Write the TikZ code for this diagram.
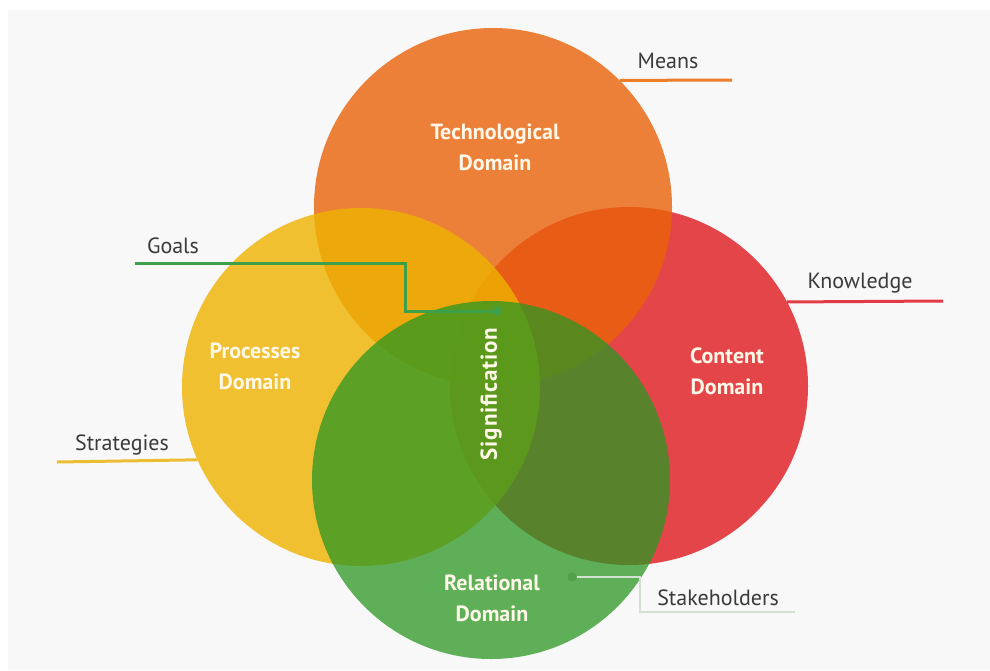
\documentclass[tikz,border=0pt]{standalone}
\usepackage{fontspec}
\setmainfont{PT Sans}
\newfontfamily\spacedsans[LetterSpace=4]{PT Sans}
\usepackage{tikz}

\definecolor{bgc}{RGB}{248,248,248}
\definecolor{techc}{RGB}{233,98,10}
\definecolor{procc}{RGB}{238,178,0}
\definecolor{contc}{RGB}{223,25,30}
\definecolor{relc}{RGB}{43,151,35}
\definecolor{cream}{RGB}{255,248,232}
\definecolor{tagc}{RGB}{58,58,60}
\definecolor{meansc}{RGB}{238,125,40}
\definecolor{knowc}{RGB}{225,60,70}
\definecolor{goalc}{RGB}{60,160,75}
\definecolor{stratc}{RGB}{235,190,50}
\definecolor{stakec}{RGB}{210,225,210}
\definecolor{staked}{RGB}{80,160,75}

\begin{document}
\begin{tikzpicture}[x=1pt, y=-1pt,
    sphere/.style={circle, minimum size=358pt, inner sep=0pt, outer sep=0pt, fill opacity=0.8},
    title/.style={text=cream, font=\bfseries\fontsize{22}{31}\selectfont, align=center},
    tag/.style={text=tagc, anchor=base, font=\fontsize{22}{26}\selectfont},
    lead/.style={line width=3pt},
    dot/.style={circle, minimum size=9pt, inner sep=0pt, outer sep=0pt}]
    \useasboundingbox (0,0) rectangle (990,670);
    \fill[white] (0,0) rectangle (990,670);
    \fill[bgc] (8,10) rectangle (990,670);

    \node[sphere, fill=contc]                    (cont) at (629,386) {};
    \node[sphere, fill=techc]                    (tech) at (493,207) {};
    \node[sphere, fill=procc]                    (proc) at (361,387) {};
    \node[sphere, fill=relc, fill opacity=0.75]  (rel)  at (491,480) {};

    \node[title] (techt) at (495,147) {Technological\\Domain};
    \node[title] (proct) at (255,366) {Processes\\Domain};
    \node[title] (contt) at (727,371) {Content\\Domain};
    \node[title] (relt)  at (492,598) {Relational\\Domain};
    \node[title, rotate=90, font=\spacedsans\bfseries\fontsize{23}{26}\selectfont] (sig) at (491,394) {Signification};

    \node[tag] (means) at (668,68)  {Means};
    \node[tag] (know)  at (860,288) {Knowledge};
    \node[tag] (goals) at (173,253) {Goals};
    \node[tag] (strat) at (122,450) {Strategies};
    \node[tag] (stake) at (718,605) {Stakeholders};

    \node[dot, fill=goalc]  (goaldot)  at (497,311) {};
    \node[dot, fill=staked] (stakedot) at (572,577) {};

    \coordinate (meansend) at (732,80);
    \coordinate (knowend)  at (943,301);
    \coordinate (goalsend) at (135,263);
    \coordinate (stratend) at (57,462);
    \coordinate (stakeend) at (795,612);

    \draw[lead, meansc] (tech.45) -- (meansend);
    \draw[lead, knowc]  (cont.28.4) -- (knowend);
    \draw[lead, goalc]  (goalsend) -- ++(270,0) |- (goaldot);
    \draw[lead, stratc] (proc.204.7) -- (stratend);
    \draw[line width=1.5pt, stakec] (stakedot) -- ++(68,0) |- (stakeend);
\end{tikzpicture}
\end{document}
